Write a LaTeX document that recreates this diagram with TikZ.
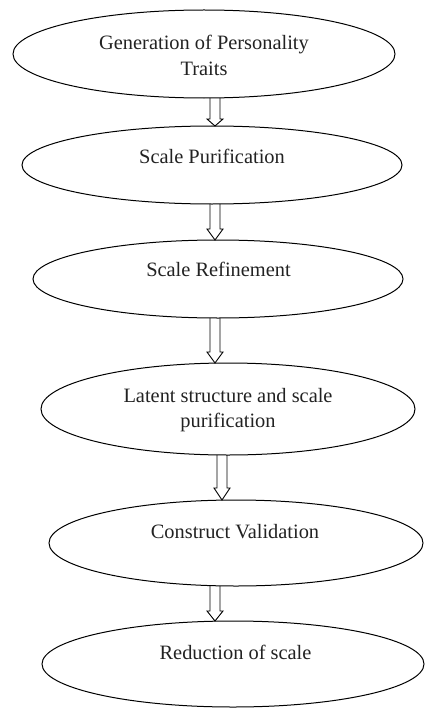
\documentclass[tikz,border=0pt]{standalone}
\usepackage{fontspec}
\setmainfont{Liberation Serif}
\usetikzlibrary{shapes.geometric,calc}
\definecolor{txtcol}{HTML}{222222}
\newcommand{\hollowarrow}[4]{%
  \coordinate (ax) at (#1,0);
  \draw[harrow] ($(ax |- #2.south)+(-5,0)$) -- ($(ax |- #3.north)+(-5,-#4)$)
    -- ($(ax |- #3.north)+(-8,-#4)$) -- (ax |- #3.north)
    -- ($(ax |- #3.north)+(8,-#4)$) -- ($(ax |- #3.north)+(5,-#4)$)
    -- ($(ax |- #2.south)+(5,0)$);
}
\begin{document}
\begin{tikzpicture}[x=1bp,y=-1bp,
  stage/.style={ellipse, draw=black, line width=1bp, inner sep=0pt, outer sep=0pt},
  lbl/.style={font=\fontsize{20.4bp}{25.5bp}\selectfont, text=txtcol, inner sep=0pt, align=center},
  harrow/.style={draw=black, line width=0.9bp, line join=miter}]
\useasboundingbox (0,0) rectangle (426,708);
\node[stage, minimum width=382bp, minimum height=88bp] (e1) at (204,54) {};
\node[stage, minimum width=380bp, minimum height=78bp] (e2) at (212,165) {};
\node[stage, minimum width=370bp, minimum height=78bp] (e3) at (218,279) {};
\node[stage, minimum width=374bp, minimum height=92bp] (e4) at (228,409) {};
\node[stage, minimum width=374bp, minimum height=86bp] (e5) at (236,543) {};
\node[stage, minimum width=382bp, minimum height=86bp] (e6) at (233,664) {};

\node[lbl] (t1) at (204,55.5) {Generation of Personality\\Traits};
\node[lbl, anchor=base] (t2) at (212,163) {Scale Purification};
\node[lbl, anchor=base] (t3) at (218.5,276.5) {Scale Refinement};
\node[lbl] (t4) at (228,410) {Latent structure and scale\\purification};
\node[lbl, anchor=base] (t5) at (235,538) {Construct Validation};
\node[lbl, anchor=base] (t6) at (235.5,659.5) {Reduction of scale};

\hollowarrow{215}{e1}{e2}{7}
\hollowarrow{215}{e2}{e3}{11}
\hollowarrow{215}{e3}{e4}{11}
\hollowarrow{222}{e4}{e5}{12}
\hollowarrow{215}{e5}{e6}{10}
\end{tikzpicture}
\end{document}
